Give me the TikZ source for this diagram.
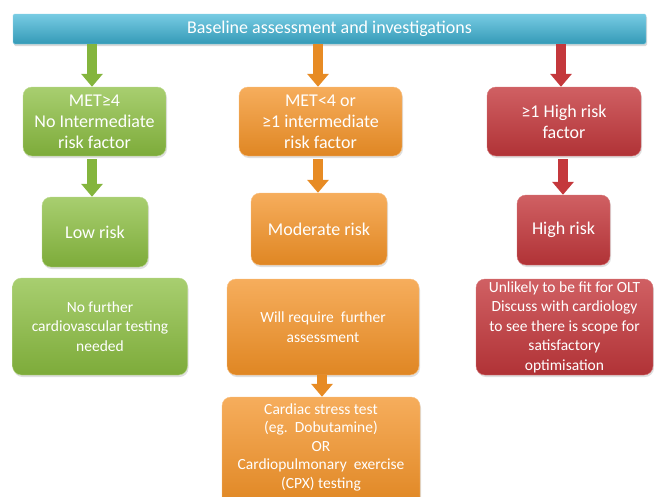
\documentclass[tikz,border=0pt]{standalone}
\usepackage{fontspec}
\setmainfont{Carlito}
\usepackage{tikz}
\usetikzlibrary{arrows.meta,shadows,positioning}

\definecolor{barcyan}{HTML}{3DB5D7}
\definecolor{boxgreen}{HTML}{8BBE40}
\definecolor{boxorange}{HTML}{F39226}
\definecolor{boxred}{HTML}{C4383C}

\begin{document}
\begin{tikzpicture}[x=1pt,y=-1pt,
  every node/.append style={text=white,align=center,inner sep=2pt},
  box/.style={rounded corners=9pt,drop shadow={opacity=0.25,shadow xshift=1pt,shadow yshift=-2pt}},
  big/.style={font=\fontsize{18}{21}\selectfont},
  small/.style={font=\fontsize{15.5}{19.5}\selectfont}]
  \tikzstyle{green} = [box,top color=boxgreen!75!white,bottom color=boxgreen!90!black,draw=boxgreen!60!white]
  \tikzstyle{orange} = [box,top color=boxorange!75!white,bottom color=boxorange!92!black,draw=boxorange!60!white]
  \tikzstyle{red} = [box,top color=boxred!80!white,bottom color=boxred!90!black,draw=boxred!70!white]
  \tikzstyle{arr} = [line width=10pt,-{Triangle[width=21pt,length=13pt]},shorten <=3pt]
  \useasboundingbox (0,0) rectangle (654,496);
  % top bar
  \node (0_1) [rounded corners=1.5pt,top color=barcyan!70!white,bottom color=barcyan!85!black,
    draw=barcyan!60!white,drop shadow={opacity=0.3,shadow xshift=1pt,shadow yshift=-2pt},
    minimum width=633pt,minimum height=30pt,font=\fontsize{18}{21}\selectfont] at (329.5,29)
    {Baseline assessment and investigations};
  % row 1
  \node (1_1) [green,big,minimum width=143pt,minimum height=69pt] at (94.5,121.5)
    {MET≥4\\No Intermediate\\risk factor};
  \node (1_2) [orange,big,minimum width=163pt,minimum height=69pt] at (320.5,121.5)
    {MET<4 or\\≥1 intermediate\\risk factor};
  \node (1_3) [red,big,minimum width=154pt,minimum height=69pt] at (564,121.5)
    {≥1 High risk\\factor};
  % row 2
  \node (2_1) [green,big,minimum width=106pt,minimum height=70pt] at (95,232) {Low risk};
  \node (2_2) [orange,big,minimum width=136pt,minimum height=72pt] at (319,229) {Moderate risk};
  \node (2_3) [red,big,minimum width=93pt,minimum height=70pt] at (563.5,230) {High risk};
  % row 3
  \node (3_1) [green,small,minimum width=175pt,minimum height=97pt] at (100,326.5)
    {No further\\cardiovascular testing\\needed};
  \node (3_2) [orange,small,minimum width=192pt,minimum height=96pt] at (323,327)
    {Will require\ \ further\\assessment};
  \node (3_3) [red,small,minimum width=177pt,minimum height=96pt] at (564.5,327)
    {Unlikely to be fit for OLT\\Discuss with cardiology\\to see there is scope for\\satisfactory\\optimisation};
  % row 4
  \node (4_2) [orange,font=\fontsize{15.5}{18.5}\selectfont,text depth=12pt,minimum width=198pt,minimum height=110pt] at (321,452)
    {Cardiac stress test\\(eg.\ \ Dobutamine)\\OR\\Cardiopulmonary\ \ exercise\\(CPX) testing};
  % arrows
  \draw[arr,boxgreen!95!black,shorten <=0pt] (0_1.south -| 92,0) -- (1_1.north -| 92,0);
  \draw[arr,boxorange!95!black,shorten <=0pt] (0_1.south -| 318,0) -- (1_2.north -| 318,0);
  \draw[arr,boxred,shorten <=0pt] (0_1.south -| 561,0) -- (1_3.north -| 561,0);
  \draw[arr,boxgreen!95!black] (1_1.south -| 92,0) -- (2_1.north -| 92,0);
  \draw[arr,boxorange!95!black] (1_2.south -| 318,0) -- (2_2.north -| 318,0);
  \draw[arr,boxred] (1_3.south -| 563,0) -- (2_3.north -| 563,0);
  \draw[arr,boxorange!95!black,shorten <=0pt] (3_2.south -| 322,0) -- (4_2.north -| 322,0);
\end{tikzpicture}
\end{document}
